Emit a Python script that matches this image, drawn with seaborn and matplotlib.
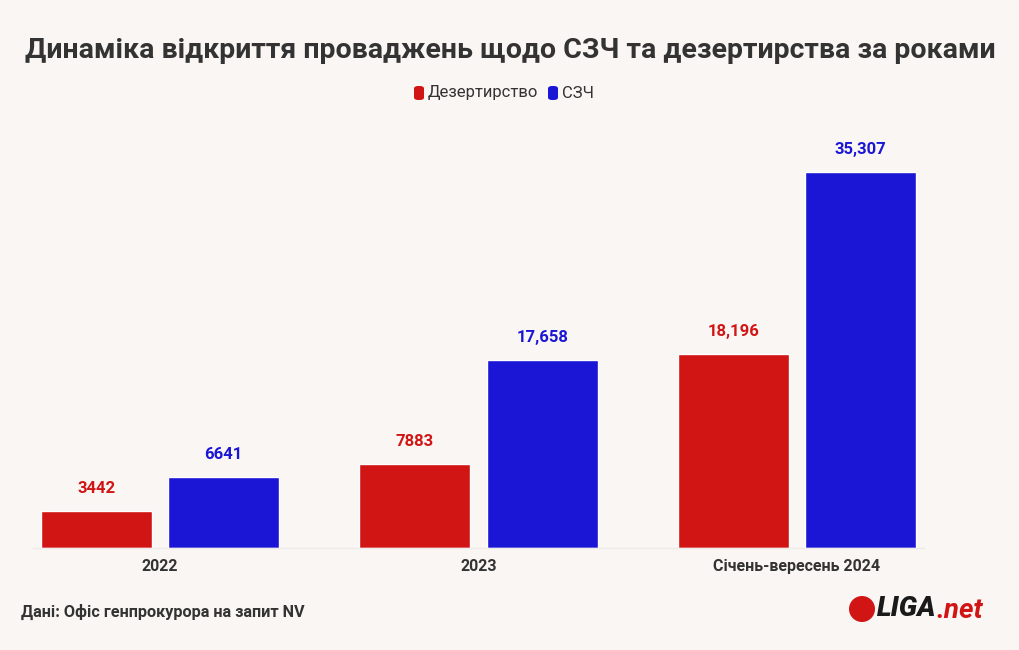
import matplotlib
matplotlib.use("Agg")
import matplotlib.pyplot as plt
import seaborn as sns
import pandas as pd
from matplotlib.patches import FancyBboxPatch, Ellipse

categories = ["2022", "2023", "Січень-вересень 2024"]
series_names = ["Дезертирство", "СЗЧ"]
desertion = [3442, 7883, 18196]
szch = [6641, 17658, 35307]
title = "Динаміка відкриття проваджень щодо СЗЧ та дезертирства за роками"
source = "Дані: Офіс генпрокурора на запит NV"

RED = "#D11515"
BLUE = "#1B15D6"
BG = "#FAF6F3"
TXT = "#333333"

sns.set_theme(style="white")
plt.rcParams["font.family"] = ["Roboto", "DejaVu Sans"]

df = pd.DataFrame({
    "cat": categories * 2,
    "series": [series_names[0]] * 3 + [series_names[1]] * 3,
    "value": desertion + szch,
})

W, H = 1020, 650
fig = plt.figure(figsize=(W / 100, H / 100), dpi=100, facecolor=BG)
unit = 318.5
x0 = 160 - 0.5 * unit
ax_left, ax_right = x0, 160 + 2.5 * unit
base_y, top_y = 548, 548 - 40000 * (376 / 35307)
ax = fig.add_axes([ax_left / W, 1 - base_y / H, (ax_right - ax_left) / W, (base_y - top_y) / H])
ax.set_facecolor(BG)

sns.barplot(data=df, x="cat", y="value", hue="series", palette=[RED, BLUE],
            width=0.8, gap=0.13, ax=ax, legend=False, saturation=1)
ax.set_xlim(-0.5, 2.5)
ax.set_ylim(0, 40000)

for cont, color in zip(ax.containers, [RED, BLUE]):
    labels = [f"{int(v):,}" if v >= 10000 else f"{int(v)}" for v in cont.datavalues]
    ax.bar_label(cont, labels=labels, padding=11, color=color, fontsize=12,
                 fontweight="bold")

for s in ["top", "right", "left"]:
    ax.spines[s].set_visible(False)
ax.spines["bottom"].set_color("#EFEBE8")
ax.spines["bottom"].set_linewidth(1)
ax.spines["bottom"].set_bounds(-0.4, 2.4)
ax.set_yticks([])
ax.set_xlabel("")
ax.set_ylabel("")
ax.tick_params(axis="x", length=0, pad=8, labelsize=11.5, labelcolor=TXT)
for t in ax.get_xticklabels():
    t.set_fontweight("bold")

fig.text(0.5, 1 - 50 / H, title, ha="center", va="center", fontsize=20.5,
         fontweight="bold", color=TXT)

# legend
ly = 1 - 93 / H
items = [(series_names[0], RED, 414), (series_names[1], BLUE, 548)]
for name, col, px in items:
    fig.patches.append(FancyBboxPatch((px / W, ly - 7 / H), 10 / W, 14 / H,
                                      boxstyle="round,pad=0,rounding_size=0.004",
                                      transform=fig.transFigure, facecolor=col,
                                      edgecolor="none"))
    fig.text((px + 14) / W, ly, name, ha="left", va="center", fontsize=12, color=TXT)

fig.text(21 / W, 1 - 612 / H, source, ha="left", va="center", fontsize=11.7,
         fontweight="bold", color=TXT)

# logo
fig.patches.append(Ellipse((862 / W, 1 - 609 / H), 26 / W, 26 / H,
                           transform=fig.transFigure, facecolor=RED, edgecolor="none"))
fig.text(877 / W, 1 - 609 / H, "LIGA", ha="left", va="center", fontsize=20,
         fontweight="black", fontstyle="italic", color="#1A1A1A")
fig.text(936 / W, 1 - 611 / H, ".net", ha="left", va="center", fontsize=20,
         fontweight="bold", fontstyle="italic", color=RED)

fig.savefig("out.png", dpi=100, facecolor=BG)
